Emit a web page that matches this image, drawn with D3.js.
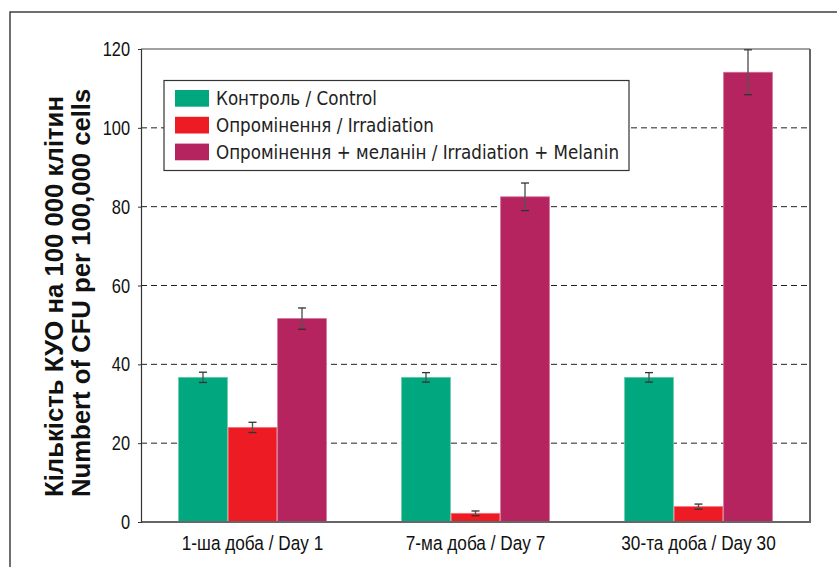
<!DOCTYPE html>
<html>
<head>
<meta charset="utf-8">
<script src="https://cdn.jsdelivr.net/npm/d3@7"></script>
<style>
  body { margin: 0; background: #fff; }
  svg { display: block; }
</style>
</head>
<body>
<svg id="chart" width="837" height="567"></svg>
<script>
"use strict";

// Days on the x axis
var days = ["1-ша доба / Day 1", "7-ма доба / Day 7", "30-та доба / Day 30"];

// Legend / series names
var seriesNames = [
    "Контроль / Control",
    "Опромінення / Irradiation",
    "Опромінення + меланін / Irradiation + Melanin"
];

// Means per day, one array per series
var controlValues = [36.7, 36.7, 36.7];
var irradiationValues = [24.0, 2.2, 3.9];
var melaninValues = [51.6, 82.5, 114.1];

// Error bar half-widths
var controlErrors = [1.3, 1.2, 1.2];
var irradiationErrors = [1.3, 0.6, 0.65];
var melaninErrors = [2.7, 3.5, 5.7];

var yTicks = [0, 20, 40, 60, 80, 100, 120];

var seriesColors = ["#00a77f", "#ed1c24", "#b5245f"];
var seriesEdges = ["#62c9a6", "#f3737a", "#d16f96"];

var seriesValues = [controlValues, irradiationValues, melaninValues];
var seriesErrors = [controlErrors, irradiationErrors, melaninErrors];

var svg = d3.select("#chart");

// Outer frame of the figure
svg.append("rect")
    .attr("x", 10).attr("y", 12).attr("width", 900).attr("height", 700)
    .attr("fill", "none").attr("stroke", "#333").attr("stroke-width", 1.4);

var plot = { left: 141, top: 49, right: 810, bottom: 522 };

var x = d3.scaleBand()
    .domain(days)
    .range([plot.left, plot.right])
    .paddingInner(0.334)
    .paddingOuter(0.167);

var xInner = d3.scaleBand()
    .domain(d3.range(seriesNames.length))
    .range([0, x.bandwidth()]);

var y = d3.scaleLinear()
    .domain([0, 120])
    .range([plot.bottom, plot.top]);

// Dashed grid lines
svg.append("g")
    .selectAll("line")
    .data(yTicks.filter(function(t){ return t > 0 && t < 120; }))
    .join("line")
    .attr("x1", plot.left).attr("x2", plot.right)
    .attr("y1", function(d){ return y(d); })
    .attr("y2", function(d){ return y(d); })
    .attr("stroke", "#222").attr("stroke-width", 1)
    .attr("stroke-dasharray", "6,4");

// Bars
var groups = svg.append("g")
    .selectAll("g")
    .data(days)
    .join("g")
    .attr("transform", function(d){ return "translate(" + x(d) + ",0)"; });

groups.selectAll("rect")
    .data(function(d, i){
        return seriesValues.map(function(vals, s){
            return { s: s, v: vals[i], e: seriesErrors[s][i] };
        });
    })
    .join("rect")
    .attr("x", function(d){ return xInner(d.s) + 0.4; })
    .attr("width", xInner.bandwidth() - 0.8)
    .attr("y", function(d){ return y(d.v); })
    .attr("height", function(d){ return y(0) - y(d.v); })
    .attr("fill", function(d){ return seriesColors[d.s]; })
    .attr("stroke", function(d){ return seriesEdges[d.s]; })
    .attr("stroke-width", 0.8);

// Error bars
var errs = groups.selectAll("g.err")
    .data(function(d, i){
        return seriesValues.map(function(vals, s){
            return { s: s, v: vals[i], e: seriesErrors[s][i] };
        });
    })
    .join("g")
    .attr("class", "err");

errs.append("line")
    .attr("x1", function(d){ return xInner(d.s) + xInner.bandwidth() / 2; })
    .attr("x2", function(d){ return xInner(d.s) + xInner.bandwidth() / 2; })
    .attr("y1", function(d){ return y(d.v + d.e); })
    .attr("y2", function(d){ return y(d.v - d.e); })
    .attr("stroke", "#555").attr("stroke-width", 1.4);

[1, -1].forEach(function(sign){
    errs.append("line")
        .attr("x1", function(d){ return xInner(d.s) + xInner.bandwidth() / 2 - 4; })
        .attr("x2", function(d){ return xInner(d.s) + xInner.bandwidth() / 2 + 4; })
        .attr("y1", function(d){ return y(d.v + sign * d.e); })
        .attr("y2", function(d){ return y(d.v + sign * d.e); })
        .attr("stroke", "#333").attr("stroke-width", 1.3);
});

// Plot box
svg.append("line")
    .attr("x1", plot.left).attr("x2", plot.right)
    .attr("y1", plot.top).attr("y2", plot.top)
    .attr("stroke", "#444").attr("stroke-width", 1.2);
svg.append("line")
    .attr("x1", plot.right).attr("x2", plot.right)
    .attr("y1", plot.top).attr("y2", plot.bottom)
    .attr("stroke", "#555").attr("stroke-width", 1.8);
svg.append("line")
    .attr("x1", plot.left).attr("x2", plot.right + 1)
    .attr("y1", plot.bottom).attr("y2", plot.bottom)
    .attr("stroke", "#666").attr("stroke-width", 2);

// Y axis; labels squeezed to mimic a condensed face
var yAxis = svg.append("g")
    .attr("transform", "translate(" + plot.left + ",0)")
    .call(d3.axisLeft(y).tickValues(yTicks).tickSize(3));
yAxis.select(".domain").attr("stroke", "#333").attr("stroke-width", 1.2);
yAxis.selectAll(".tick line").attr("stroke", "#333");
yAxis.selectAll(".tick text")
    .attr("x", 0)
    .attr("transform", "translate(-11,0) scale(0.8,1)")
    .attr("fill", "#111")
    .style("font-family", "'Liberation Sans', Arial, sans-serif")
    .style("font-size", "20.5px");

// X axis labels
var xAxis = svg.append("g")
    .attr("transform", "translate(0," + plot.bottom + ")")
    .call(d3.axisBottom(x).tickSize(0).tickPadding(13));
xAxis.select(".domain").remove();
xAxis.selectAll(".tick text")
    .attr("transform", "scale(0.84,1)")
    .attr("fill", "#111")
    .style("font-family", "'Liberation Sans', Arial, sans-serif")
    .style("font-size", "20.5px");

// Y axis title, two lines
var titleLines = ["Кількість КУО на 100 000 клітин", "Numbert of CFU per 100,000 cells"];
svg.append("g")
    .selectAll("text")
    .data(titleLines)
    .join("text")
    .attr("transform", function(d, i){ return "translate(" + (63 + i * 27) + ",497) rotate(-90)"; })
    .attr("text-anchor", "start")
    .attr("fill", "#111")
    .style("font-family", "'Liberation Sans', Arial, sans-serif")
    .style("font-weight", "bold")
    .style("font-size", "25.7px")
    .text(function(d){ return d; });

// Legend
var legend = svg.append("g").attr("transform", "translate(164,80.5)");
legend.append("rect")
    .attr("width", 465).attr("height", 90)
    .attr("fill", "#fff").attr("stroke", "#333").attr("stroke-width", 1.2);
var rows = legend.selectAll("g.row")
    .data(seriesNames)
    .join("g")
    .attr("class", "row")
    .attr("transform", function(d, i){ return "translate(0," + (9.5 + i * 26.8) + ")"; });
rows.append("rect")
    .attr("x", 11).attr("width", 34).attr("height", 16.7)
    .attr("fill", function(d, i){ return seriesColors[i]; });
rows.append("text")
    .attr("x", 52).attr("y", 15)
    .attr("fill", "#222")
    .style("font-family", "'DejaVu Sans Condensed', 'DejaVu Sans', sans-serif")
    .style("font-size", "18.6px")
    .text(function(d){ return d; });
</script>
</body>
</html>
